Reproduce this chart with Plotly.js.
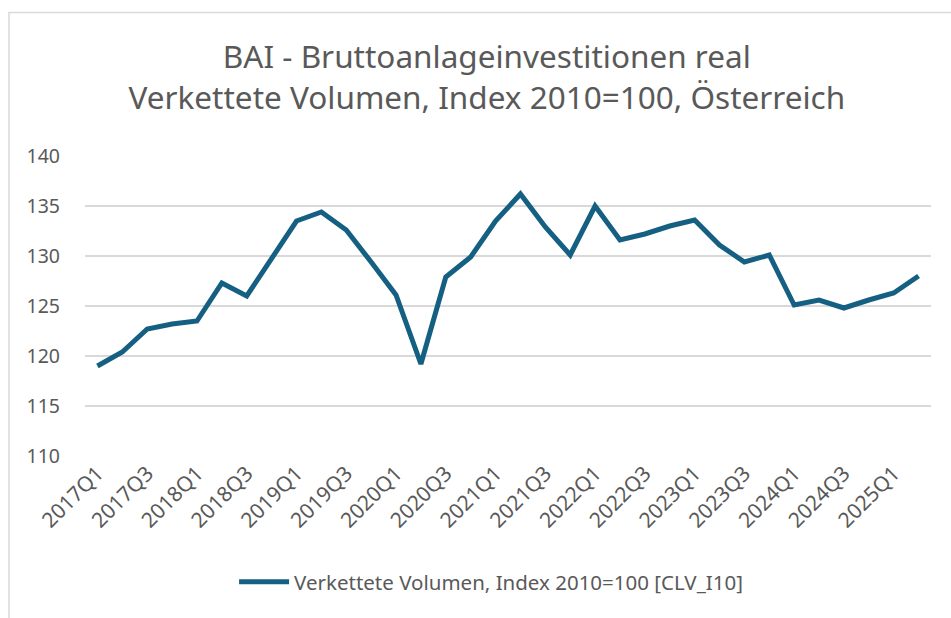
<!DOCTYPE html>
<html>
<head>
<meta charset="utf-8">
<script src="https://cdn.plot.ly/plotly-3.0.1.min.js"></script>
<style>html,body{margin:0;padding:0;background:#fff;}#chart{width:951px;height:618px;}</style>
</head>
<body>
<div id="chart"></div>
<script>
const quarters = ["2017Q1","2017Q2","2017Q3","2017Q4","2018Q1","2018Q2","2018Q3","2018Q4",
  "2019Q1","2019Q2","2019Q3","2019Q4","2020Q1","2020Q2","2020Q3","2020Q4",
  "2021Q1","2021Q2","2021Q3","2021Q4","2022Q1","2022Q2","2022Q3","2022Q4",
  "2023Q1","2023Q2","2023Q3","2023Q4","2024Q1","2024Q2","2024Q3","2024Q4",
  "2025Q1","2025Q2"];
const values = [119.0,120.4,122.7,123.2,123.5,127.3,126.0,129.8,
  133.5,134.4,132.6,129.4,126.1,119.2,127.9,129.9,
  133.5,136.2,132.9,130.1,135.0,131.6,132.2,133.0,
  133.6,131.1,129.4,130.1,125.1,125.6,124.8,125.6,
  126.3,128.0];
const tickLabels = ["2017Q1","2017Q3","2018Q1","2018Q3","2019Q1","2019Q3","2020Q1","2020Q3",
  "2021Q1","2021Q3","2022Q1","2022Q3","2023Q1","2023Q3","2024Q1","2024Q3","2025Q1"];
const seriesName = "Verkettete Volumen, Index 2010=100 [CLV_I10]";

const textColor = "#595959";
const trace = {
  x: quarters, y: values, type: "scatter", mode: "lines", name: seriesName,
  line: {color: "#156082", width: 5, shape: "linear"}
};
const layout = {
  width: 951, height: 618,
  margin: {l: 85, r: 20, t: 156, b: 162},
  paper_bgcolor: "#ffffff", plot_bgcolor: "#ffffff",
  font: {family: "Noto Sans, Liberation Sans, sans-serif", color: textColor},
  title: {
    text: "BAI - Bruttoanlageinvestitionen real<br>Verkettete Volumen, Index 2010=100, Österreich",
    font: {size: 31.5, color: textColor, family: "Noto Sans, sans-serif"},
    x: 0.475, xanchor: "center", xref: "paper",
    y: 0.89, yanchor: "top", yref: "container"
  },
  xaxis: {
    type: "category", range: [-0.5, 33.5],
    tickmode: "array", tickvals: tickLabels, ticktext: tickLabels,
    tickangle: -45, showgrid: false, zeroline: false, showline: false, ticks: "",
    tickfont: {size: 21, color: textColor, family: "Noto Sans, sans-serif"},
    fixedrange: true
  },
  yaxis: {
    range: [110, 140], tickmode: "array", tickvals: [110,115,120,125,130,135,140],
    showgrid: true, gridcolor: "#d9d9d9", gridwidth: 1.5, zeroline: false, showline: false,
    ticks: "", ticklabelstandoff: 24,
    tickfont: {size: 19.5, color: textColor, family: "Noto Sans, sans-serif"},
    fixedrange: true
  },
  showlegend: true,
  legend: {
    orientation: "h", x: 0.48, xanchor: "center", y: -0.42, yanchor: "middle",
    font: {size: 20.5, color: textColor, family: "Noto Sans, sans-serif"},
    itemwidth: 50, bgcolor: "rgba(0,0,0,0)"
  },
  shapes: [{
    type: "rect", xref: "paper", yref: "paper",
    x0: (9 - 85) / 846, x1: (960 - 85) / 846,
    y0: (456 - 630) / 300, y1: (456 - 12.5) / 300,
    line: {color: "#d9d9d9", width: 1.5}, fillcolor: "rgba(0,0,0,0)", layer: "below"
  }]
};
Plotly.newPlot("chart", [trace], layout, {displayModeBar: false, staticPlot: true});
</script>
</body>
</html>
